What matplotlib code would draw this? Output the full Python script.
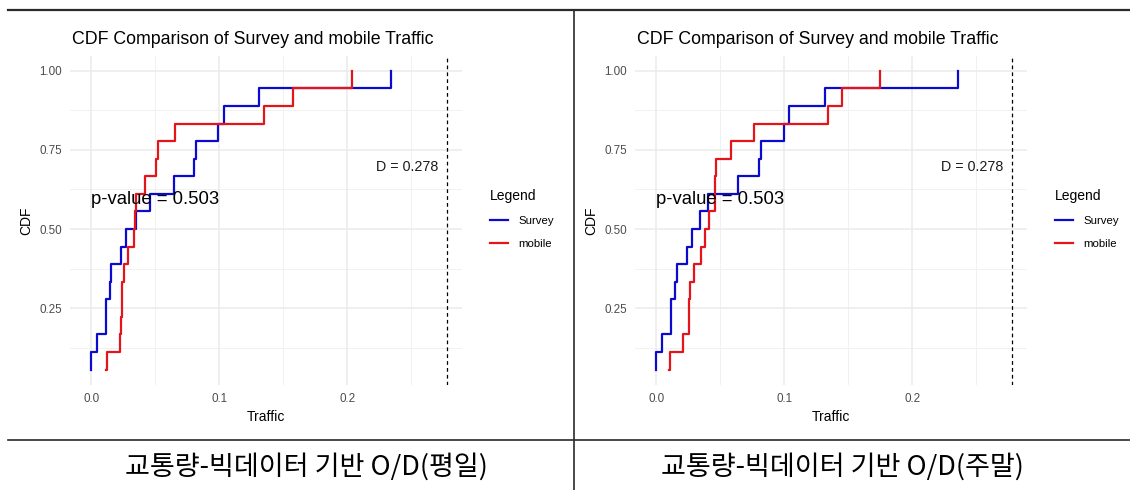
import matplotlib
matplotlib.use('Agg')
import matplotlib.pyplot as plt
import numpy as np
from matplotlib.lines import Line2D

# ---------------- data ----------------
chart_title = "CDF Comparison of Survey and mobile Traffic"
captions = ["교통량-빅데이터 기반 O/D(평일)", "교통량-빅데이터 기반 O/D(주말)"]
series_names = ["Survey", "mobile"]

weekday_survey = [0.0000, 0.0002, 0.0042, 0.0117, 0.0118, 0.0151, 0.0158, 0.0236, 0.0275,
                  0.0353, 0.0457, 0.0644, 0.0800, 0.0818, 0.0990, 0.1034, 0.1312, 0.2340]
weekday_mobile = [0.0119, 0.0121, 0.0223, 0.0234, 0.0242, 0.0243, 0.0255, 0.0288, 0.0332,
                  0.0345, 0.0347, 0.0423, 0.0509, 0.0519, 0.0652, 0.1351, 0.1574, 0.2039]
weekend_survey = [0.0000, 0.0002, 0.0044, 0.0117, 0.0119, 0.0151, 0.0162, 0.0240, 0.0279,
                  0.0345, 0.0405, 0.0640, 0.0802, 0.0817, 0.1000, 0.1037, 0.1319, 0.2355]
weekend_mobile = [0.0104, 0.0106, 0.0209, 0.0256, 0.0257, 0.0261, 0.0295, 0.0352, 0.0379,
                  0.0410, 0.0462, 0.0463, 0.0465, 0.0582, 0.0762, 0.1339, 0.1449, 0.1744]

ks_stat = [0.278, 0.278]
p_values = [0.503, 0.503]

x_ticks = [0.0, 0.1, 0.2]
x_tick_labels = ["0.0", "0.1", "0.2"]
x_minor = [0.05, 0.15, 0.25]
y_ticks = [0.25, 0.50, 0.75, 1.00]
y_tick_labels = ["0.25", "0.50", "0.75", "1.00"]
y_minor = [0.125, 0.375, 0.625, 0.875]

panels = [(weekday_survey, weekday_mobile), (weekend_survey, weekend_mobile)]
colors = ["#0A0AD0", "#E5141B"]

# ---------------- figure ----------------
plt.rcParams['font.family'] = ['Liberation Sans', 'DejaVu Sans']
fig = plt.figure(figsize=(11.3, 4.9), dpi=100)
W, H = 1130.0, 490.0

panel_lefts = [70, 635]
panel_w = 392
panel_top, panel_bot = 56, 385

for i, (surv, mob) in enumerate(panels):
    left = panel_lefts[i]
    ax = fig.add_axes([left / W, 1 - panel_bot / H, panel_w / W, (panel_bot - panel_top) / H])
    for s in ax.spines.values():
        s.set_visible(False)
    ax.set_facecolor('white')
    # grid
    for xv in x_minor:
        ax.axvline(xv, color='#F1F1F1', lw=0.7, zorder=0)
    for yv in y_minor:
        ax.axhline(yv, color='#F1F1F1', lw=0.7, zorder=0)
    for xv in x_ticks:
        ax.axvline(xv, color='#EBEBEB', lw=1.1, zorder=0)
    for yv in y_ticks:
        ax.axhline(yv, color='#EBEBEB', lw=1.1, zorder=0)

    for vals, c, name in zip((surv, mob), colors, series_names):
        xs = np.sort(np.array(vals))
        ys = np.arange(1, len(xs) + 1) / len(xs)
        ax.step(xs, ys, where='post', color=c, lw=1.6, label=name, zorder=3)

    D = ks_stat[i]
    ax.axvline(D, color='black', lw=0.9, linestyle=(0, (3, 2.5)), zorder=2)
    ax.text(D - 0.007, 0.695, f"D = {D:.3f}", ha='right', va='center', fontsize=10.3, color='#1A1A1A', zorder=4)
    ax.text(0.0, 0.592, f"p-value = {p_values[i]:.3f}", ha='left', va='center', fontsize=13.3,
            color='black', zorder=4)

    ax.set_xlim(-0.0165, 0.2895)
    ax.set_ylim(0.007, 1.047)
    ax.set_xticks(x_ticks)
    ax.set_xticklabels(x_tick_labels)
    ax.set_yticks(y_ticks)
    ax.set_yticklabels(y_tick_labels)
    ax.tick_params(length=0, labelsize=8.4, labelcolor='#4D4D4D', pad=6)
    ax.set_xlabel("Traffic", fontsize=10, color='black', labelpad=3)
    ax.set_ylabel("CDF", fontsize=10, color='black', labelpad=4)
    ax.set_title(chart_title, fontsize=12.8, loc='left', pad=9, color='black', x=0.006)

    handles = [Line2D([0], [0], color=c, lw=1.6) for c in colors]
    leg = fig.legend(handles, series_names, title="Legend", loc='upper left',
                     bbox_to_anchor=((left + 410) / W, 1 - 179 / H),
                     frameon=False, fontsize=8.2, title_fontsize=10,
                     handlelength=1.6, handletextpad=0.9, labelspacing=1.15,
                     alignment='left')

# ---------------- table-like frame ----------------
fig.add_artist(Line2D([8 / W, 1.0], [1 - 10 / H, 1 - 10 / H], color='#2A2A2A', lw=1.6))
fig.add_artist(Line2D([8 / W, 1.0], [1 - 440 / H, 1 - 440 / H], color='#2A2A2A', lw=1.2))
fig.add_artist(Line2D([574 / W, 574 / W], [1 - 10 / H, 0.0], color='#2A2A2A', lw=1.2))

for cx, cap in zip([306, 842], captions):
    fig.text(cx / W, 1 - 467 / H, cap, ha='center', va='center', fontsize=19.5,
             family=['Noto Sans CJK KR', 'DejaVu Sans'], color='black')

fig.savefig('out.png', dpi=100, facecolor='white')
